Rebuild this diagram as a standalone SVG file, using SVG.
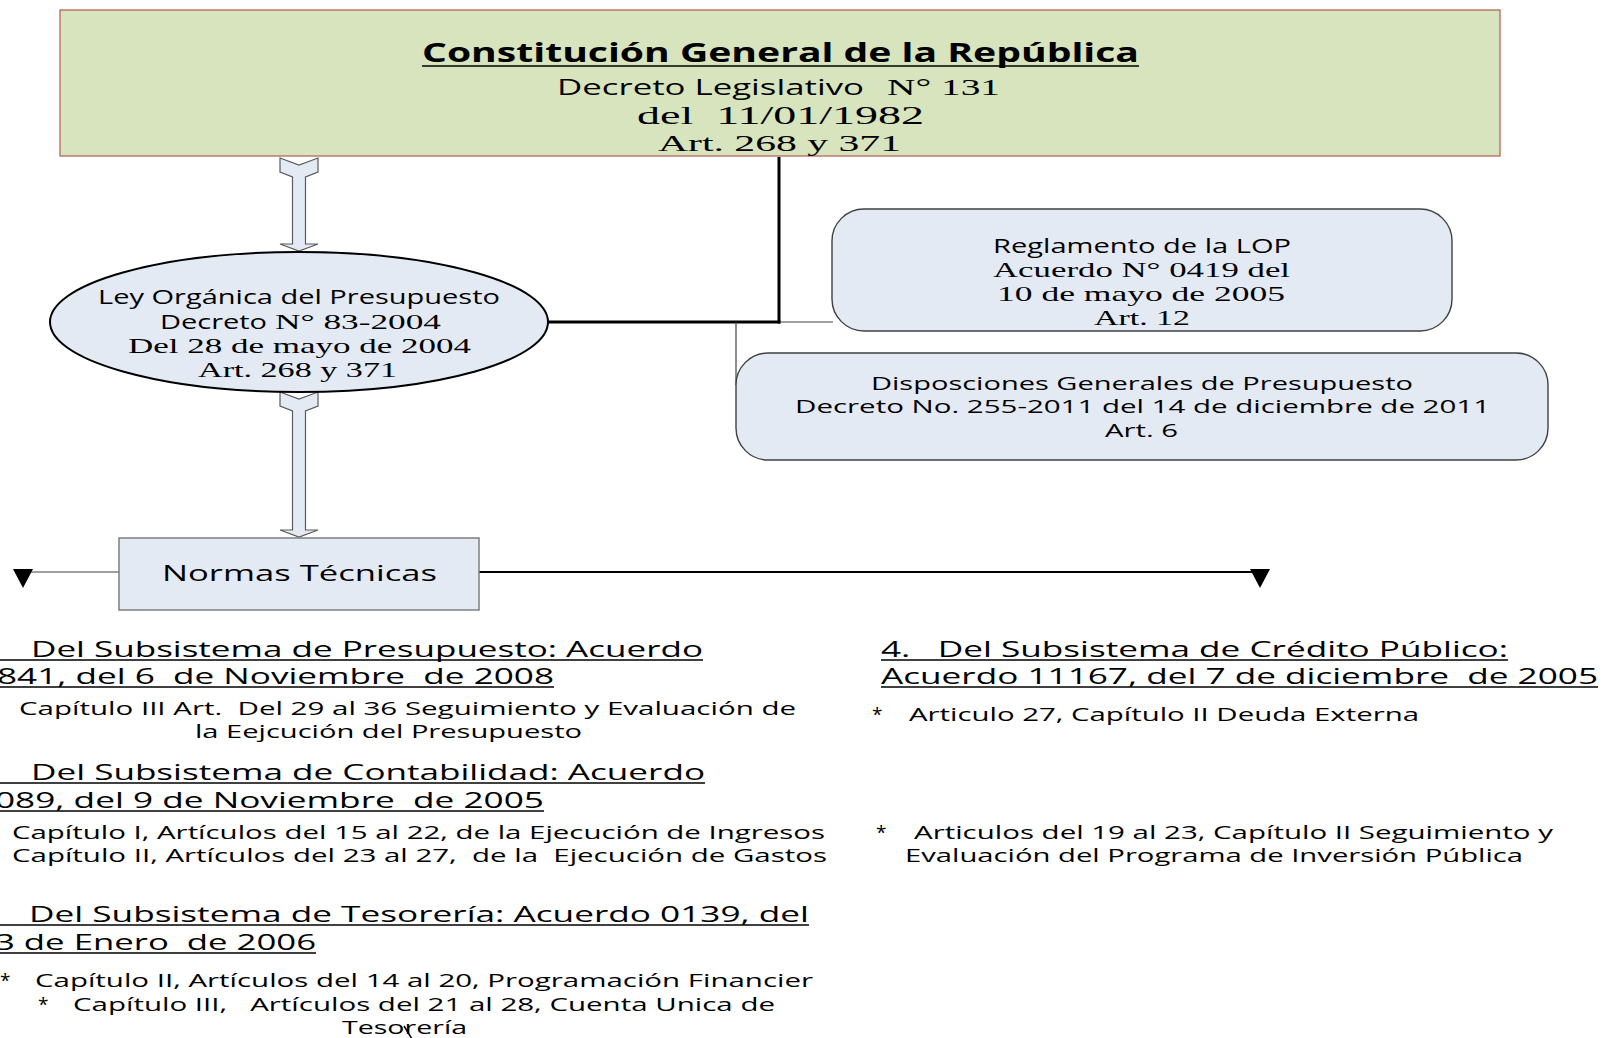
<svg xmlns="http://www.w3.org/2000/svg" width="1604" height="1038" viewBox="0 0 1604 1038">
<style>
.sans{font-family:"Open Sans","Liberation Sans",sans-serif;fill:#000}
.serif{font-family:"Liberation Serif","DejaVu Serif",serif;fill:#000}
.pre{white-space:pre}
.ul{stroke:#000;stroke-width:1.6}
.blk{fill:#E4EAF4;stroke:#404040;stroke-width:1.4}
.barrow{fill:#E4EAF4;stroke:#5a5a5a;stroke-width:1.2}
</style>
<rect width="1604" height="1038" fill="#fff"/>

<g id="connectors">
  <line x1="779" y1="157" x2="779" y2="323.5" stroke="#000" stroke-width="3"/>
  <line x1="546" y1="322" x2="780.5" y2="322" stroke="#000" stroke-width="3"/>
  <polyline points="780,322 833,322" fill="none" stroke="#444" stroke-width="1.2"/>
  <line x1="736" y1="322" x2="736" y2="385" stroke="#444" stroke-width="1.2"/>
  <path class="barrow" d="M280,158 L299,165 L318,158 L318,172 L305.5,177 L305.5,244 L318,244 L299,251 L280,244 L292.5,244 L292.5,177 L280,172 Z"/>
  <path class="barrow" d="M280,392 L299,399 L318,392 L318,406 L305.5,411 L305.5,530 L318,530 L299,537 L280,530 L292.5,530 L292.5,411 L280,406 Z"/>
  <line x1="119" y1="572" x2="28" y2="572" stroke="#7f7f7f" stroke-width="1.3"/>
  <polygon points="13,569 33,569 23,588" fill="#000"/>
  <line x1="479" y1="572" x2="1258" y2="572" stroke="#000" stroke-width="2"/>
  <polygon points="1250,569 1270,569 1260,588" fill="#000"/>
  <line x1="404" y1="1026" x2="412" y2="1039" stroke="#000" stroke-width="1.5"/>
</g>

<g id="constitucion">
  <rect x="60" y="10" width="1440" height="146" fill="#D7E4BD" stroke="#B5665A" stroke-width="1.3"/>
  <text class="sans" x="422" y="62" font-size="27" font-weight="bold" textLength="717" lengthAdjust="spacingAndGlyphs">Constitución General de la República</text>
  <line class="ul" x1="422" y1="66" x2="1139" y2="66" stroke-width="2.5"/>
  <text class="sans" x="557" y="95" font-size="22" textLength="307" lengthAdjust="spacingAndGlyphs">Decreto Legislativo</text>
  <text class="serif" x="887" y="95" font-size="23" textLength="113" lengthAdjust="spacingAndGlyphs">N° 131</text>
  <text class="serif pre" x="637" y="124" font-size="25" textLength="287" lengthAdjust="spacingAndGlyphs">del  11/01/1982</text>
  <text class="serif" x="658" y="151" font-size="24" textLength="243" lengthAdjust="spacingAndGlyphs">Art. 268 y 371</text>
</g>

<g id="ley-organica">
  <ellipse cx="299" cy="322" rx="249" ry="70" fill="#E4EAF4" stroke="#000" stroke-width="2"/>
  <text class="sans" x="98" y="304" font-size="20" textLength="402" lengthAdjust="spacingAndGlyphs">Ley Orgánica del Presupuesto</text>
  <text class="sans" x="160" y="329" font-size="20" textLength="107" lengthAdjust="spacingAndGlyphs">Decreto</text>
  <text class="serif" x="275" y="329" font-size="22" textLength="166" lengthAdjust="spacingAndGlyphs">N° 83-2004</text>
  <text class="serif" x="128" y="353" font-size="22" textLength="343" lengthAdjust="spacingAndGlyphs">Del 28 de mayo de 2004</text>
  <text class="serif" x="198" y="377" font-size="22" textLength="199" lengthAdjust="spacingAndGlyphs">Art. 268 y 371</text>
</g>

<g id="reglamento">
  <rect x="832" y="209" width="620" height="122" rx="32" ry="32" class="blk"/>
  <text class="sans" x="993" y="253" font-size="20" textLength="298" lengthAdjust="spacingAndGlyphs">Reglamento de la LOP</text>
  <text class="serif" x="993" y="277" font-size="22" textLength="297" lengthAdjust="spacingAndGlyphs">Acuerdo N° 0419 del</text>
  <text class="serif" x="997" y="301" font-size="22" textLength="288" lengthAdjust="spacingAndGlyphs">10 de mayo de 2005</text>
  <text class="serif" x="1094" y="325" font-size="22" textLength="96" lengthAdjust="spacingAndGlyphs">Art. 12</text>
</g>

<g id="disposiciones">
  <rect x="736" y="353" width="812" height="107" rx="32" ry="32" class="blk"/>
  <text class="sans" x="871" y="390" font-size="19" textLength="542" lengthAdjust="spacingAndGlyphs">Disposciones Generales de Presupuesto</text>
  <text class="sans" x="795" y="413" font-size="19" textLength="695" lengthAdjust="spacingAndGlyphs">Decreto No. 255-2011 del 14 de diciembre de 2011</text>
  <text class="sans" x="1105" y="437" font-size="19" textLength="73" lengthAdjust="spacingAndGlyphs">Art. 6</text>
</g>

<g id="normas-tecnicas">
  <rect x="119" y="538" width="360" height="72" fill="#E4EAF4" stroke="#7f7f7f" stroke-width="1.5"/>
  <text class="sans" x="162" y="581" font-size="22" textLength="275" lengthAdjust="spacingAndGlyphs">Normas Técnicas</text>
</g>

<g id="presupuesto">
  <text class="sans" x="31" y="657" font-size="22" textLength="672" lengthAdjust="spacingAndGlyphs">Del Subsistema de Presupuesto: Acuerdo</text>
  <line class="ul" x1="0" y1="660" x2="703" y2="660"/>
  <text class="sans pre" x="-3" y="684" font-size="22" textLength="557" lengthAdjust="spacingAndGlyphs">841, del 6  de Noviembre  de 2008</text>
  <line class="ul" x1="0" y1="687" x2="554" y2="687"/>
  <text class="sans pre" x="19" y="715" font-size="19" textLength="777" lengthAdjust="spacingAndGlyphs">Capítulo III Art.  Del 29 al 36 Seguimiento y Evaluación de</text>
  <text class="sans" x="195" y="738" font-size="19" textLength="387" lengthAdjust="spacingAndGlyphs">la Eejcución del Presupuesto</text>
</g>

<g id="contabilidad">
  <text class="sans" x="31" y="780" font-size="22" textLength="674" lengthAdjust="spacingAndGlyphs">Del Subsistema de Contabilidad: Acuerdo</text>
  <line class="ul" x1="0" y1="783" x2="705" y2="783"/>
  <text class="sans pre" x="-5" y="808" font-size="22" textLength="549" lengthAdjust="spacingAndGlyphs">089, del 9 de Noviembre  de 2005</text>
  <line class="ul" x1="0" y1="811" x2="544" y2="811"/>
  <text class="sans" x="12" y="839" font-size="19" textLength="813" lengthAdjust="spacingAndGlyphs">Capítulo I, Artículos del 15 al 22, de la Ejecución de Ingresos</text>
  <text class="sans pre" x="12" y="862" font-size="19" textLength="815" lengthAdjust="spacingAndGlyphs">Capítulo II, Artículos del 23 al 27,  de la  Ejecución de Gastos</text>
</g>

<g id="tesoreria">
  <text class="sans" x="29" y="922" font-size="22" textLength="780" lengthAdjust="spacingAndGlyphs">Del Subsistema de Tesorería: Acuerdo 0139, del</text>
  <line class="ul" x1="0" y1="925" x2="809" y2="925"/>
  <text class="sans pre" x="-5" y="950" font-size="22" textLength="321" lengthAdjust="spacingAndGlyphs">3 de Enero  de 2006</text>
  <line class="ul" x1="0" y1="953" x2="316" y2="953"/>
  <text class="sans" x="0" y="987" font-size="19">*</text>
  <text class="sans" x="35" y="987" font-size="19" textLength="778" lengthAdjust="spacingAndGlyphs">Capítulo II, Artículos del 14 al 20, Programación Financier</text>
  <text class="sans" x="38" y="1011" font-size="19">*</text>
  <text class="sans pre" x="73" y="1011" font-size="19" textLength="702" lengthAdjust="spacingAndGlyphs">Capítulo III,   Artículos del 21 al 28, Cuenta Unica de</text>
  <text class="sans" x="342" y="1034" font-size="19" textLength="125" lengthAdjust="spacingAndGlyphs">Tesorería</text>
</g>

<g id="credito-publico">
  <text class="sans pre" x="881" y="657" font-size="22" textLength="627" lengthAdjust="spacingAndGlyphs">4.   Del Subsistema de Crédito Público:</text>
  <line class="ul" x1="881" y1="660" x2="1508" y2="660"/>
  <text class="sans pre" x="881" y="684" font-size="22" textLength="717" lengthAdjust="spacingAndGlyphs">Acuerdo 11167, del 7 de diciembre  de 2005</text>
  <line class="ul" x1="881" y1="687" x2="1598" y2="687"/>
  <text class="sans" x="872" y="721" font-size="19">*</text>
  <text class="sans" x="909" y="721" font-size="19" textLength="510" lengthAdjust="spacingAndGlyphs">Articulo 27, Capítulo II Deuda Externa</text>
</g>

<g id="inversion-publica">
  <text class="sans" x="876" y="839" font-size="19">*</text>
  <text class="sans" x="914" y="839" font-size="19" textLength="639" lengthAdjust="spacingAndGlyphs">Articulos del 19 al 23, Capítulo II Seguimiento y</text>
  <text class="sans" x="905" y="862" font-size="19" textLength="618" lengthAdjust="spacingAndGlyphs">Evaluación del Programa de Inversión Pública</text>
</g>
</svg>
